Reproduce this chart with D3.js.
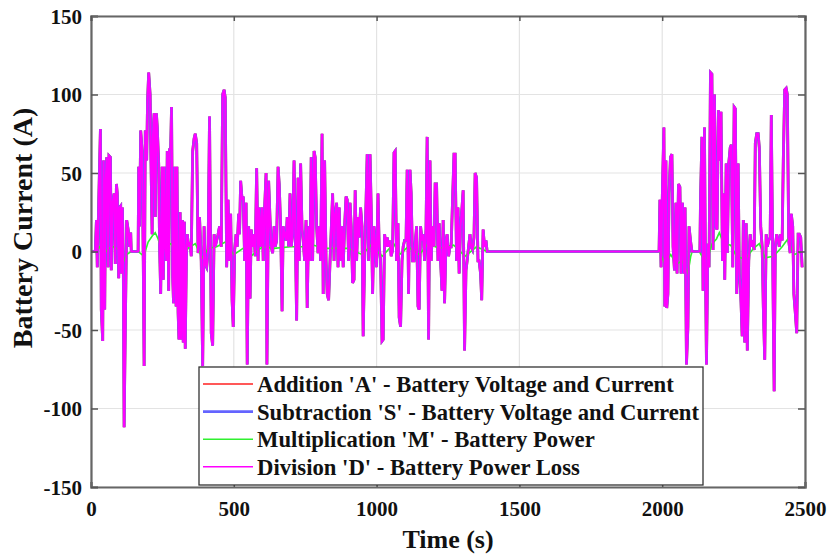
<!DOCTYPE html>
<html>
<head>
<meta charset="utf-8">
<script src="https://cdn.jsdelivr.net/npm/d3@7"></script>
<style>
body { margin: 0; background: #fff; }
text { font-family: "Liberation Serif", "Times New Roman", serif; font-weight: bold; fill: #111; }
</style>
</head>
<body>
<svg id="chart" width="829" height="558"></svg>
<script>
// battery current (s, A)
var times = [0, 13, 15, 19, 22, 28, 33, 36, 41, 44, 48, 51, 55, 60, 63, 68, 71, 75, 81, 85, 89, 92, 97, 100, 104, 106, 110, 113, 116, 120, 125, 130, 135, 139, 141,
  165, 167, 170, 174, 179, 183, 186, 190, 195, 198, 202, 207, 210, 214, 217, 221, 225, 229, 232, 237, 240, 244, 249, 253, 257, 260, 264, 267, 272, 275, 279, 282, 286, 289, 293, 298,
  301, 305, 308, 312, 315, 320, 323, 327, 330, 334, 337, 342, 347, 351, 356, 361, 365, 370, 375, 380, 386, 391, 396, 400, 405, 410, 415, 421, 426, 431, 435, 440, 445, 450, 456,
  461, 466, 470, 475, 480, 484, 489, 494, 498, 503, 508, 512, 517, 520, 524, 529, 533, 538, 543, 547, 552, 557, 561, 566, 571, 575, 580, 585, 589, 594, 599, 603, 608, 613, 616,
  622, 627, 631, 636, 641, 645, 650, 655, 659, 664, 669, 673, 678, 683, 687, 692, 697, 701, 706, 711, 715, 720, 725, 729, 734, 739, 743, 748, 753, 757, 762, 767, 771, 776, 781,
  785, 790, 795, 799, 804, 809, 813, 818, 823, 827, 832, 837, 846, 851, 855, 860, 865, 869, 874, 879, 883, 888, 893, 897, 902, 907, 911, 916, 921, 925, 930, 935, 939, 944, 949,
  953, 958, 963, 967, 972, 977, 981, 986, 991, 995, 1000, 1005, 1009, 1014, 1019, 1023, 1028, 1033, 1037, 1042, 1047, 1051, 1056, 1061, 1065, 1070, 1075, 1079, 1084, 1089, 1093,
  1098, 1103, 1107, 1112, 1117, 1121, 1126, 1131, 1135, 1140, 1145, 1149, 1154, 1159, 1163, 1168, 1173, 1177, 1182, 1187, 1191, 1196, 1201, 1205, 1210, 1215, 1219, 1224, 1229,
  1233, 1238, 1243, 1247, 1252, 1257, 1261, 1266, 1271, 1275, 1280, 1285, 1289, 1294, 1299, 1303, 1308, 1313, 1317, 1322, 1327, 1331, 1336, 1341, 1345, 1350, 1355, 1359, 1364,
  1368, 1373, 1378, 1383, 1387,
  1989, 1992, 1996, 2001, 2006, 2009, 2013, 2016, 2020, 2024, 2029, 2034, 2038, 2043, 2048, 2052, 2057, 2062, 2066, 2071, 2076, 2080, 2085, 2090, 2094, 2099, 2104,
  2132, 2134, 2139, 2143, 2148, 2151, 2155, 2160, 2164, 2169, 2174, 2178, 2183, 2188, 2192, 2197, 2202, 2206, 2211, 2216, 2219, 2224, 2228, 2233, 2238, 2242, 2247, 2252, 2256,
  2261, 2266, 2270, 2275, 2280, 2284, 2289, 2294, 2298, 2303, 2308, 2312, 2317, 2322, 2326, 2331, 2336, 2340, 2345, 2350, 2354, 2359, 2364, 2368, 2373, 2378, 2382, 2387, 2392,
  2396, 2401, 2406, 2410, 2415, 2420, 2424, 2429, 2434, 2438, 2443, 2448, 2452, 2457, 2461, 2466, 2471, 2476, 2480, 2485, 2490];

var current = [0, 0, 0, 20, -10, 39, 78, -37, -57, 58, -37, 41, 60, -10, 61, 60, -12, 30, 37, -8, 43, 37, -17, 28, 29, -14, 28, -6, -112, -50, 20, 14, 3, 12, 0,
  0, 54, 16, 77, 64, -6, -73, 77, 58, 96, 114, 100, 58, 11, 73, 88, 22, 88, 79, 56, 5, -27, 54, -18, 54, 7, -6, 64, -25, 65, 66, 92, -16, -33, 54, -35,
  54, -39, -56, 25, -56, 20, -58, 19, -62, -3, 11, 3, 6, -3, 64, 72, 75, 69, -1, 22, -6, -73, 16, -8, -10, 1, 86, -52, -60, 11, 3, 7, 11, 16, 3,
  100, 103, 98, -10, 33, -6, 24, -31, -48, 1, 11, 3, 24, 11, 45, 33, 35, -6, 31, -72, 16, -30, 14, 3, 11, -3, 53, -6, 28, 3, 28, -6, 28, 50, -72,
  45, 20, 3, -1, 16, 3, 7, 54, 43, 16, -38, 16, 11, 7, 22, 3, 37, 3, 11, 58, 16, -44, 47, -6, 56, 14, 7, -6, 20, -36, 16, -6, 60, -6, 64,
  60, 16, -1, 16, -6, 75, -27, 58, -6, -27, -31, -6, 37, -6, 24, 31, -10, 28, -6, 16, -10, 16, 35, 33, -6, 31, 16, -20, -18, 39, -6, 22, 9, 28, 16,
  -54, -6, 31, 62, -6, 62, 28, -27, 16, 3, -10, 37, 3, -6, -57, -56, 11, 3, 9, 3, 7, -3, 1, 63, 64, -6, 18, -42, -48, -6, 3,
  7, 7, 52, -27, 52, 37, -6, -6, 5, 16, -35, -37, 16, 7, 11, -6, 14, 73, -56, 58, -6, 16, 3, 43, 43, -6, 18, -6, -25,
  20, -33, 7, 11, -3, 3, 3, 33, 62, 62, -6, 28, -14, 16, 28, 39, -63, -12, -6, 3, 11, 3, 1, 9, 50, 47, -6, -6, -14,
  -31, 14, 3, 7, 0,
  0, 33, -10, 41, 79, -35, 58, -36, -27, 37, 60, 62, 3, -12, 31, -14, 43, 41, -14, 31, -14, 28, -72, -48, 16, 7, 0,
  0, 31, 73, -25, 79, -1, -72, 5, -10, 114, 113, 1, 100, 16, 14, 90, 58, 89, -6, 37, -18, 56, -1, 56, 66, 68, -10, 92, 91,
  -27, 56, -14, -27, -54, 20, -58, 18, -63, -6, 11, 3, 7, 1, 69, 75, 75, 66, 16, 3, -35, -69, 11, 3, 7, 9, 87, -6, -89,
  3, 11, 7, 3, 11, 7, 58, 103, 104, 100, 7, -1, 24, 16, -27, -39, -52, 11, 11, 9, -10];

// battery power trace (green), near zero
var powerTimes = [0, 15, 30, 45, 60, 80, 100, 115, 125, 140, 165, 185, 200, 215, 225, 235, 245, 260, 280, 300, 320, 340, 365, 390, 410, 440, 470, 500, 540, 560,
  600, 640, 700, 740, 780, 820, 860, 900, 950, 980, 1020, 1060, 1080, 1110, 1150, 1180, 1220, 1270, 1310, 1350, 1387,
  1990, 2010, 2030, 2050, 2070, 2090, 2100, 2105, 2130, 2145, 2160, 2175, 2190, 2200, 2215, 2240, 2260, 2290, 2320, 2340, 2360, 2390, 2420, 2440, 2460, 2490];
var powerVals = [0, 0, 3, -2, 2, 3, 1, -6, -2, 0, 0, -3, 6, 10, 12, 8, 2, 4, 5, -3, -4, 2, 5, -4, 2, 3, 6, -2, 3, -3,
  3, 2, 3, 3, 4, 2, 2, 2, -2, 4, -3, 5, -2, 3, -2, 5, 2, 4, -3, 3, 0,
  0, -8, -2, -8, -6, -14, -3, 0, 0, -5, -4, 5, 8, 12, 5, 4, -3, -5, 2, 5, -4, -3, 3, 8, -2, 0];

var xTicks = [0, 500, 1000, 1500, 2000, 2500];
var yTicks = [-150, -100, -50, 0, 50, 100, 150];

var seriesNames = [
  "Addition 'A' - Battery Voltage and Current",
  "Subtraction 'S' - Battery Voltage and Current",
  "Multiplication 'M' - Battery Power",
  "Division 'D' - Battery Power Loss"
];
var seriesColors = ["#ff2020", "#6464ff", "#30f030", "#ff00ff"];

var build = function() {
  var left = 91, right = 805, top = 16, bottom = 487;

  var svg = d3.select("#chart");

  var xScale = d3.scaleLinear().domain([0, 2500]).range([left, right]);
  var yScale = d3.scaleLinear().domain([-150, 150]).range([bottom, top]);

  var fmt = function(d) { return String(d); };

  svg.append("rect").
    attr("x", left).attr("y", top).
    attr("width", right - left).attr("height", bottom - top).
    attr("fill", "#fff");

  // grid
  var grid = svg.append("g").attr("stroke", "#e3e3e3").attr("stroke-width", 1.2);
  grid.selectAll(".gx").data(xTicks).enter().append("line").
    attr("x1", function(d) { return xScale(d); }).
    attr("x2", function(d) { return xScale(d); }).
    attr("y1", top).attr("y2", bottom);
  grid.selectAll(".gy").data(yTicks).enter().append("line").
    attr("y1", function(d) { return yScale(d); }).
    attr("y2", function(d) { return yScale(d); }).
    attr("x1", left).attr("x2", right);

  svg.append("defs").append("clipPath").
    attr("id", "clip").append("rect").
    attr("x", left).attr("y", top).
    attr("width", right - left).attr("height", bottom - top);

  var pts = function(ts, vs) {
    return ts.map(function(t, i) { return [t, vs[i]]; });
  };
  var ds = [
    { data: pts(times, current), color: seriesColors[0], w: 2.8 },
    { data: pts(times, current), color: seriesColors[1], w: 2.8 },
    { data: pts(powerTimes, powerVals), color: seriesColors[2], w: 1.6 },
    { data: pts(times, current), color: seriesColors[3], w: 2.1 }
  ];

  var line = d3.line().
    x(function(d) { return xScale(d[0]); }).
    y(function(d) { return yScale(d[1]); });

  var plot = svg.append("g").attr("clip-path", "url(#clip)");
  plot.selectAll("path").data(ds).enter().append("path").
    attr("fill", "none").
    attr("stroke", function(d) { return d.color; }).
    attr("stroke-width", function(d) { return d.w; }).
    attr("stroke-linejoin", "miter").
    attr("d", function(d) { return line(d.data); });

  // axes
  var xAxis = d3.axisBottom(xScale).tickValues(xTicks).tickSize(-5).tickPadding(14).tickFormat(fmt);
  var yAxis = d3.axisLeft(yScale).tickValues(yTicks).tickSize(-7).tickPadding(9).tickFormat(fmt);

  var gX = svg.append("g").attr("transform", "translate(0," + bottom + ")").call(xAxis);
  var gY = svg.append("g").attr("transform", "translate(" + left + ",0)").call(yAxis);
  svg.append("g").attr("transform", "translate(" + right + ",0)").
    call(d3.axisRight(yScale).tickValues(yTicks).tickSize(-7).tickFormat(""));
  svg.append("g").attr("transform", "translate(0," + top + ")").
    call(d3.axisTop(xScale).tickValues(xTicks).tickSize(-5).tickFormat(""));

  svg.selectAll(".domain").attr("stroke", "#666").attr("stroke-width", 2.2);
  svg.selectAll(".tick line").attr("stroke", "#555").attr("stroke-width", 1.5);
  svg.selectAll(".tick text").
    attr("fill", "#111").
    style("font-family", "'Liberation Serif', serif").
    style("font-weight", "bold").
    style("font-size", "21px");
  gY.selectAll(".tick text").attr("dy", "0.34em");

  // legend
  var lg = svg.append("g");
  lg.append("rect").
    attr("x", 199).attr("y", 367).
    attr("width", 504).attr("height", 118).
    attr("fill", "#fff").
    attr("stroke", "#333").
    attr("stroke-width", 1.3);

  var row = lg.selectAll(".row").data(seriesNames).enter().append("g").
    attr("transform", function(d, i) { return "translate(0," + (392 + i * 27.6) + ")"; });
  row.append("line").
    attr("x1", 203).attr("x2", 253).
    attr("y1", -8).attr("y2", -8).
    attr("stroke", function(d, i) { return seriesColors[i]; }).
    attr("stroke-width", function(d, i) { return i === 1 ? 2.6 : 1.6; });
  row.append("text").
    attr("x", 257).attr("y", 0).
    style("font-size", "22.7px").
    text(function(d) { return d; });

  // axis titles
  svg.append("text").
    attr("x", (left + right) / 2).
    attr("y", 548).
    attr("text-anchor", "middle").
    style("font-size", "26px").
    text("Time (s)");

  svg.append("text").
    attr("transform", "translate(32," + 228 + ") rotate(-90)").
    attr("text-anchor", "middle").
    style("font-size", "28px").
    text("Battery Current (A)");
};

build();
</script>
</body>
</html>
